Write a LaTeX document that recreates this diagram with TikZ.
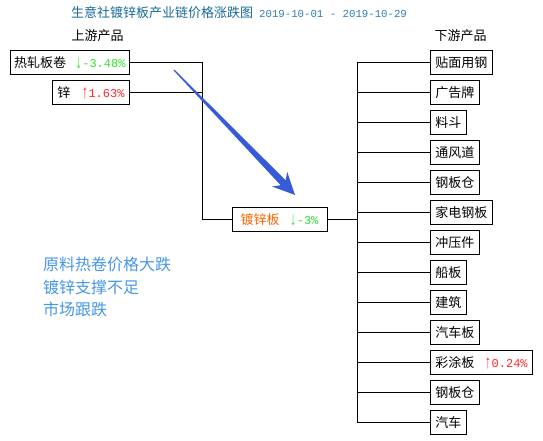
\documentclass[tikz,border=0pt]{standalone}
\usepackage{fontspec}
\usepackage{graphicx}
\newfontfamily\cjk{Noto Sans CJK SC}
\newfontfamily\mono{Liberation Mono}
\usetikzlibrary{calc,positioning}
\definecolor{titleblue}{RGB}{25,105,155}
\definecolor{dateblue}{RGB}{45,125,180}
\definecolor{fallgreen}{RGB}{50,225,50}
\definecolor{risered}{RGB}{255,40,40}
\definecolor{coreorange}{RGB}{255,102,0}
\definecolor{noteblue}{RGB}{70,150,230}
\definecolor{arrowblue}{RGB}{55,90,215}

\newcommand{\pctfall}[1]{{\color{fallgreen}\mono\fontsize{12}{12}\selectfont\raisebox{-1pt}{\scalebox{1}[1.6]{↓}}#1}}
\newcommand{\pctrise}[1]{{\color{risered}\mono\fontsize{12}{12}\selectfont\raisebox{-1pt}{\scalebox{1}[1.6]{↑}}#1}}

\tikzset{
    prodbox/.style={draw=black, line width=0.9pt, inner xsep=5pt, inner ysep=0pt,
        minimum height=24pt, font=\cjk\fontsize{13}{13}\selectfont},
    link/.style={line width=0.9pt},
}

\begin{document}
\begin{tikzpicture}

    \useasboundingbox (0,0) rectangle (543pt, 440pt);

    % 1. 标题与栏目
    \node (title) at (71pt, 427pt) [anchor=west, inner sep=0pt] {%
        {\cjk\fontsize{13}{13}\selectfont\color{titleblue}生意社镀锌板产业链价格涨跌图}\hspace{6pt}%
        {\mono\fontsize{10.7}{10.7}\selectfont\color{dateblue}2019-10-01 - 2019-10-29}};
    \node (uphead) at (97.5pt, 404pt) [font=\cjk\fontsize{13}{13}\selectfont] {上游产品};
    \node (downhead) at (460.5pt, 404pt) [font=\cjk\fontsize{13}{13}\selectfont] {下游产品};

    % 2. 上游产品
    \node (hr) at (130pt, 377.5pt) [prodbox, anchor=east, inner xsep=4pt] {热轧板卷\hspace{9pt}\pctfall{-3.48\%}};
    \node (zn) at (130pt, 347.5pt) [prodbox, anchor=east] {锌\hspace{11pt}\pctrise{1.63\%}};

    % 3. 中间：镀锌板
    \node (core) at (279.5pt, 220.5pt) [prodbox, minimum width=95pt] {{\color{coreorange}镀锌板}\hspace{10pt}\pctfall{-3\%}};
    \coordinate (lbus) at (202pt, 220.5pt);
    \coordinate (rbus) at (357pt, 220.5pt);

    \draw[link] (hr.east) -| (lbus);
    \draw[link] (zn.east) -| (lbus);
    \draw[link] (lbus) -- (core.west);
    \draw[link] (core.east) -- (rbus);

    % 4. 下游产品
    \foreach \pname [count=\i] in {贴面用钢, 广告牌, 料斗, 通风道, 钢板仓, 家电钢板, 冲压件,
        船板, 建筑, 汽车板, {彩涂板\hspace{10pt}\pctrise{0.24\%}}, 钢板仓, 汽车} {
        \node (d\i) at (430pt, {(407.5-30*\i)*1pt}) [prodbox, anchor=west] {\pname};
        \draw[link] (rbus) |- (d\i.west);
    }

    % 5. 蓝色大箭头
    \coordinate (tail) at (174pt, 370pt);
    \coordinate (tip) at (295pt, 245pt);
    \coordinate (nb) at ($(tip)!17pt!(tail)$);
    \coordinate (bb) at ($(tip)!22pt!(tail)$);
    \fill[arrowblue] ($(tail)!0.6pt!90:(tip)$) -- ($(nb)!3.5pt!90:(tip)$) -- ($(bb)!10.5pt!90:(tip)$)
        -- (tip) -- ($(bb)!10.5pt!-90:(tip)$) -- ($(nb)!3.5pt!-90:(tip)$) -- ($(tail)!0.6pt!-90:(tip)$) -- cycle;

    % 6. 左侧说明文字
    \node (note) at (43pt, 183pt) [anchor=north west, align=left, inner sep=0pt, text=noteblue,
        font=\cjk\fontsize{16}{22.5}\selectfont] {原料热卷价格大跌\\镀锌支撑不足\\市场跟跌};

\end{tikzpicture}
\end{document}
